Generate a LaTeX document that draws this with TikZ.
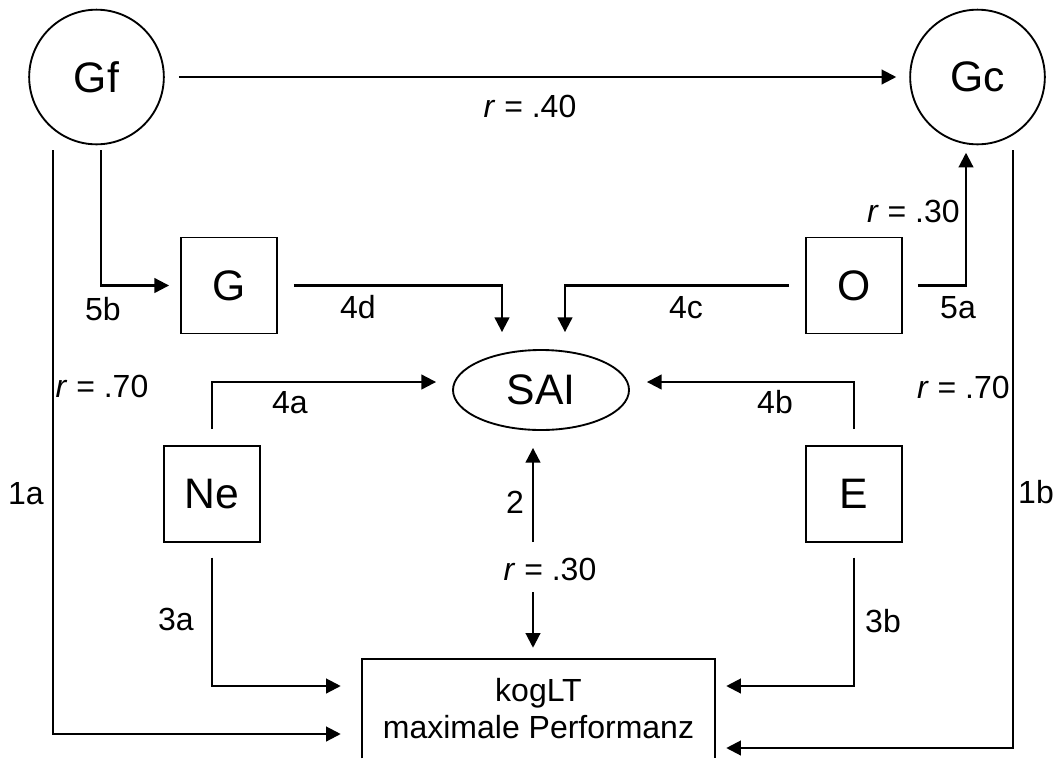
\documentclass[tikz,border=0pt]{standalone}
\usepackage{fontspec}
\setmainfont{Liberation Sans}
\usetikzlibrary{arrows.meta,shapes.geometric}
\begin{document}
\begin{tikzpicture}[x=0.75pt,y=-0.75pt,
  conn/.style={line width=1.6pt},
  arr/.style={conn,-{Triangle[length=11pt,width=11pt]}},
  varbox/.style={draw,line width=1.4pt,inner sep=0pt,font=\fontsize{32}{38}\selectfont},
  latent/.style={varbox,circle,minimum size=101pt},
  obs/.style={varbox,rectangle,minimum width=72pt,minimum height=72pt},
  lab/.style={font=\fontsize{24}{28}\selectfont,anchor=base,inner sep=0pt}]
\useasboundingbox[fill=white] (0,0) rectangle (1053,758);

% nodes
\node[latent] (Gf) at (96.5,77) {Gf};
\node[latent] (Gc) at (977.5,77) {Gc};
\node[obs] (G) at (229,285.5) {G};
\node[obs] (O) at (854,285.5) {O};
\node[obs] (Ne) at (212,494) {Ne};
\node[obs] (E) at (854,494) {E};
\node[varbox,ellipse,minimum width=132pt,minimum height=60pt] (SAI) at (541,390) {SAI};
\node[minimum width=264.75pt,minimum height=74.25pt,inner sep=0pt,align=center,font=\fontsize{24}{27.75}\selectfont] (k) at (538.5,708.5) {kogLT\\maximale Performanz};
\draw[line width=1.4pt] (k.south west) |- (k.north east) -- (k.south east);

% free ends
\coordinate (s1a) at (53,150);
\coordinate (s5b) at (101,150);
\coordinate (s1b) at (1013,150);
\coordinate (m1) at (533,542);
\coordinate (m2) at (533,592);

% connectors
\draw[arr, shorten <=10.5pt, shorten >=9.75pt] (Gf) -- (Gc);
\draw[arr, shorten >=15.75pt] (s1a) |- (k.west |- 0,734);
\draw[arr, shorten >=8.25pt] (s5b) |- (G);
\draw[arr, shorten <=12pt, shorten >=12.75pt] (G.east) -| (502,0 |- SAI.north);
\draw[arr, shorten <=12pt, shorten >=12.75pt] (O.west) -| (565,0 |- SAI.north);
\draw[arr, shorten <=11.25pt, shorten >=5.6pt] (O.east) -| (966,0 |- Gc.south);
\draw[arr, shorten >=8.25pt] (s1b) |- (k.east |- 0,748);
\draw[arr, shorten <=12pt, shorten >=12pt] (Ne.north) |- (SAI.west |- 0,382);
\draw[arr, shorten <=12pt, shorten >=12.75pt] (E.north) |- (SAI.east |- 0,382);
\draw[arr, shorten <=11pt, shorten >=15.75pt] (Ne.south) |- (k.west |- 0,686);
\draw[arr, shorten <=11pt, shorten >=8.25pt] (E.south) |- (k.east |- 0,686);
\draw[arr, shorten >=12.75pt] (m1) -- (m1 |- SAI.south);
\draw[arr, shorten >=8.25pt] (m2) -- (m2 |- k.north);

% labels
\node[lab] (l40) at (530,117) {\textit{r} = .40};
\node[lab] (l5b) at (103,320) {5b};
\node[lab] (l70a) at (102,397) {\textit{r} = .70};
\node[lab] (l4d) at (358,318) {4d};
\node[lab] (l4c) at (686,318) {4c};
\node[lab] (l5a) at (958,318) {5a};
\node[lab,anchor=base east] (l30a) at (960,222) {\textit{r} = .30};
\node[lab,anchor=base east] (l70b) at (1010,398) {\textit{r} = .70};
\node[lab] (l4a) at (290,413) {4a};
\node[lab] (l4b) at (775,413) {4b};
\node[lab] (l1a) at (26,504) {1a};
\node[lab] (l1b) at (1036,503) {1b};
\node[lab] (l2) at (515,513) {2};
\node[lab] (l30b) at (550,580) {\textit{r} = .30};
\node[lab] (l3a) at (176,630) {3a};
\node[lab] (l3b) at (883,632) {3b};
\end{tikzpicture}
\end{document}
